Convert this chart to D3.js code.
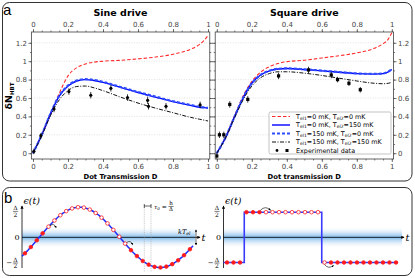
<!DOCTYPE html>
<html>
<head>
<meta charset="utf-8">
<script src="https://cdn.jsdelivr.net/npm/d3@7"></script>
<style>
body { margin: 0; background: #fff; }
svg { display: block; }
text { font-family: "DejaVu Sans", sans-serif; }
.serif { font-family: "DejaVu Serif", serif; }
</style>
</head>
<body>
<svg id="chart" width="415" height="278"></svg>
<script>
// ---- panel a data ----
let dGrid = [0, 0.05, 0.1, 0.15, 0.2, 0.25, 0.3, 0.35, 0.4, 0.5, 0.6, 0.7, 0.8, 0.9, 0.95, 0.98, 1];

let sine_T0_0     = [0, 0.2, 0.42, 0.65, 0.84, 0.93, 0.97, 0.99, 1.0, 1.01, 1.025, 1.045, 1.075, 1.13, 1.18, 1.23, 1.28];
let sine_T0_150   = [0, 0.2, 0.43, 0.62, 0.73, 0.785, 0.8, 0.79, 0.77, 0.715, 0.66, 0.61, 0.56, 0.52, 0.5, 0.495, 0.49];
let sine_T150_0   = [0, 0.2, 0.43, 0.625, 0.735, 0.79, 0.805, 0.795, 0.775, 0.72, 0.665, 0.615, 0.565, 0.525, 0.505, 0.497, 0.492];
let sine_T150_150 = [0, 0.19, 0.41, 0.58, 0.68, 0.725, 0.73, 0.71, 0.68, 0.61, 0.545, 0.49, 0.44, 0.39, 0.37, 0.358, 0.35];

let sq_T0_0     = [0, 0.17, 0.4, 0.62, 0.78, 0.88, 0.94, 0.975, 0.995, 1.01, 1.035, 1.06, 1.09, 1.14, 1.19, 1.24, 1.31];
let sq_T0_150   = [0, 0.17, 0.39, 0.6, 0.76, 0.85, 0.895, 0.915, 0.92, 0.91, 0.895, 0.88, 0.865, 0.86, 0.865, 0.885, 0.91];
let sq_T150_0   = [0, 0.17, 0.39, 0.6, 0.76, 0.85, 0.897, 0.917, 0.922, 0.912, 0.897, 0.882, 0.867, 0.862, 0.867, 0.887, 0.912];
let sq_T150_150 = [0, 0.165, 0.38, 0.58, 0.73, 0.82, 0.865, 0.885, 0.885, 0.87, 0.845, 0.815, 0.785, 0.76, 0.755, 0.76, 0.77];

let sineExpD   = [0.005, 0.045, 0.12, 0.205, 0.33, 0.445, 0.54, 0.655, 0.66, 0.76, 0.955];
let sineExpN   = [0.02, 0.19, 0.48, 0.67, 0.63, 0.705, 0.605, 0.575, 0.51, 0.51, 0.525];
let sineExpErr = [0.03, 0.03, 0.035, 0.035, 0.035, 0.035, 0.035, 0.04, 0.035, 0.035, 0.035];

let sqExpD   = [0, 0.015, 0.04, 0.074, 0.177, 0.353, 0.524, 0.654, 0.69, 0.755, 0.82];
let sqExpN   = [-0.03, 0.2, 0.2, 0.53, 0.585, 0.84, 0.905, 0.85, 0.8, 0.76, 0.69];
let sqExpErr = [0.03, 0.035, 0.035, 0.035, 0.035, 0.035, 0.035, 0.035, 0.03, 0.03, 0.03];

let xTicks = [0, 0.2, 0.4, 0.6, 0.8, 1];
let xMinor = d3.range(0, 1.001, 0.05);
let yTicks = [0, 0.2, 0.4, 0.6, 0.8, 1, 1.2];
let yMinor = d3.range(0, 1.25, 0.1);

let legendLabels = [
    ["0", "0"], ["0", "150"], ["150", "0"], ["150", "150"]
];

// ---- panel b data ----
let sineAmp = 1.2, sinePeriod = 0.9415, sinePhase = 0.101;   // in units of the panel width
let sineDotState = "FFFFOOOOOOOOOOOOOOFFFFFFFFFFF";
let squareEdges = [0, 0.119, 0.563, 1];
let squareLevels = [-1, 1, -1];
let squareDotState = "FFFFFFOOOOOOOOOOFFFFFFFFFFF";

const svg = d3.select('#chart');
const fmt = d3.format('~g');

// defs
let defs = svg.append('defs');
defs.append('marker').attr('id', 'arr')
    .attr('viewBox', '0 0 6 6').attr('refX', 5).attr('refY', 3)
    .attr('markerWidth', 4).attr('markerHeight', 4).attr('orient', 'auto-start-reverse')
    .append('path').attr('d', 'M0,0 L6,3 L0,6 z').attr('fill', '#000');
let grad = defs.append('linearGradient').attr('id', 'band')
    .attr('x1', 0).attr('x2', 0).attr('y1', 0).attr('y2', 1);
grad.append('stop').attr('offset', '0').attr('stop-color', '#ffffff').attr('stop-opacity', 0);
grad.append('stop').attr('offset', '0.5').attr('stop-color', '#7db8ea');
grad.append('stop').attr('offset', '1').attr('stop-color', '#ffffff').attr('stop-opacity', 0);

// panel boxes
svg.append('rect').attr('x', 2.5).attr('y', 2.5).attr('width', 409.5).attr('height', 178.5)
    .attr('rx', 7).attr('fill', 'none').attr('stroke', '#333');
svg.append('rect').attr('x', 2.5).attr('y', 187.5).attr('width', 409.5).attr('height', 88)
    .attr('rx', 7).attr('fill', 'none').attr('stroke', '#333');
svg.append('text').attr('x', 3).attr('y', 15).attr('font-size', 15)
    .style('font-family', '"Liberation Sans", Arial, sans-serif').text('a');
svg.append('text').attr('x', 4).attr('y', 203).attr('font-size', 15)
    .style('font-family', '"Liberation Sans", Arial, sans-serif').text('b');

const y = d3.scaleLinear([0, 1.2], [153.2, 42.8]);
const yTop = 32, yBot = 159;

let styles = [
    { color: '#ff2a2a', width: 1.1, dash: '3.5,2' },
    { color: '#0000ff', width: 1.4, dash: null },
    { color: '#2e4dff', width: 2.2, dash: '3,2' },
    { color: '#111111', width: 1, dash: '4,1.5,1,1.5' }
];

function styleAxis(g) {
    g.select('.domain').remove();
    g.selectAll('line').attr('stroke', '#444').attr('stroke-width', 0.7);
    g.selectAll('text').attr('font-size', 7).attr('fill', '#444')
        .style('font-family', '"DejaVu Sans", sans-serif');
}

function drawPlot(x, curves, expD, expN, expErr, square, title, xlabel, rightLabels) {
    let g = svg.append('g');
    let x0 = x(-0.009), x1 = x(1.01);

    g.selectAll('.grid').data(yTicks.slice(1)).join('line')
        .attr('x1', x0).attr('x2', x1)
        .attr('y1', d => y(d)).attr('y2', d => y(d))
        .attr('stroke', '#cfcfcf').attr('stroke-width', 0.6).attr('stroke-dasharray', '1,1.5');

    let line = d3.line()
        .x(d => x(d[0]))
        .y(d => y(d[1]))
        .curve(d3.curveMonotoneX);

    curves.forEach(function (c, i) {
        g.append('path')
            .attr('d', line(dGrid.map((d, k) => [d, c[k]])))
            .attr('fill', 'none')
            .attr('stroke', styles[i].color)
            .attr('stroke-width', styles[i].width)
            .attr('stroke-dasharray', styles[i].dash);
    });

    let pts = expD.map((d, i) => ({ d: d, n: expN[i], e: expErr[i] }));
    g.selectAll('.err').data(pts).join('line')
        .attr('x1', d => x(d.d)).attr('x2', d => x(d.d))
        .attr('y1', d => y(d.n - d.e)).attr('y2', d => y(d.n + d.e))
        .attr('stroke', '#000').attr('stroke-width', 0.8);
    if (square) {
        g.selectAll('.pt').data(pts).join('rect')
            .attr('x', d => x(d.d) - 1.6).attr('y', d => y(d.n) - 1.6)
            .attr('width', 3.2).attr('height', 3.2).attr('fill', '#000');
    } else {
        g.selectAll('.pt').data(pts).join('circle')
            .attr('cx', d => x(d.d)).attr('cy', d => y(d.n))
            .attr('r', 1.6).attr('fill', '#000');
    }

    g.append('rect').attr('x', x0).attr('y', yTop).attr('width', x1 - x0).attr('height', yBot - yTop)
        .attr('fill', 'none').attr('stroke', '#555').attr('stroke-width', 0.9);

    // axes
    [[d3.axisTop, yTop], [d3.axisBottom, yBot]].forEach(function (a) {
        g.append('g').attr('transform', `translate(0,${a[1]})`)
            .call(a[0](x).tickValues(xMinor).tickSize(1.5).tickFormat(''))
            .call(styleAxis);
        g.append('g').attr('transform', `translate(0,${a[1]})`)
            .call(a[0](x).tickValues(xTicks).tickSize(3).tickPadding(2).tickFormat(fmt))
            .call(styleAxis);
    });
    [[d3.axisLeft, x0, !rightLabels], [d3.axisRight, x1, rightLabels]].forEach(function (a) {
        g.append('g').attr('transform', `translate(${a[1]},0)`)
            .call(a[0](y).tickValues(yMinor).tickSize(1.5).tickFormat(''))
            .call(styleAxis);
        g.append('g').attr('transform', `translate(${a[1]},0)`)
            .call(a[0](y).tickValues(yTicks).tickSize(3).tickPadding(a[2] ? 1.5 : 0)
                .tickFormat(a[2] ? fmt : ''))
            .call(styleAxis);
    });

    let cx = (x(0) + x(1)) / 2;
    g.append('text').attr('x', cx).attr('y', 15.5).attr('text-anchor', 'middle')
        .attr('font-size', 9.5).attr('font-weight', 'bold').text(title);
    g.append('text').attr('x', cx).attr('y', 179).attr('text-anchor', 'middle')
        .attr('font-size', 6.8).attr('font-weight', 'bold').text(xlabel);
    return g;
}

const xL = d3.scaleLinear([0, 1], [33, 208]);
const xR = d3.scaleLinear([0, 1], [216.8, 391.8]);

drawPlot(xL, [sine_T0_0, sine_T0_150, sine_T150_0, sine_T150_150],
    sineExpD, sineExpN, sineExpErr, false, 'Sine drive', 'Dot Transmission D', false);
drawPlot(xR, [sq_T0_0, sq_T0_150, sq_T150_0, sq_T150_150],
    sqExpD, sqExpN, sqExpErr, true, 'Square drive', 'Dot transmission D', true);

// y label
let yl = svg.append('text').attr('transform', 'translate(12,96) rotate(-90)')
    .attr('text-anchor', 'middle').attr('font-weight', 'bold').attr('font-size', 9.5);
yl.append('tspan').text('\u03b4N');
yl.append('tspan').attr('font-size', 5.5).attr('dy', 1.5).text('HBT');

// legend
let lg = svg.append('g').attr('transform', 'translate(269,112)');
lg.append('rect').attr('width', 122).attr('height', 42).attr('rx', 1.5)
    .attr('fill', '#fff').attr('stroke', '#aaa').attr('stroke-width', 0.7);
let rows = [...legendLabels, null];
rows.forEach(function (r, i) {
    let yy = 4.5 + i * 8.5;
    if (r) {
        lg.append('line').attr('x1', 3).attr('x2', 21).attr('y1', yy).attr('y2', yy)
            .attr('stroke', styles[i].color).attr('stroke-width', styles[i].width)
            .attr('stroke-dasharray', styles[i].dash);
        let t = lg.append('text').attr('x', 27).attr('y', yy + 2.2).attr('font-size', 6.4);
        t.append('tspan').text('T');
        t.append('tspan').attr('font-size', 4.5).attr('dy', 1.2).text('el1');
        t.append('tspan').attr('dy', -1.2).text('=' + r[0] + ' mK, T');
        t.append('tspan').attr('font-size', 4.5).attr('dy', 1.2).text('el2');
        t.append('tspan').attr('dy', -1.2).text('=' + r[1] + ' mK');
    } else {
        lg.append('circle').attr('cx', 8).attr('cy', yy).attr('r', 1.4);
        lg.append('rect').attr('x', 16.5).attr('y', yy - 1.5).attr('width', 3).attr('height', 3);
        lg.append('text').attr('x', 27).attr('y', yy + 2.2).attr('font-size', 6.4).text('Experimental data');
    }
});

// ---- panel b ----
const yE = d3.scaleLinear([-1, 1], [262.5, 212.2]);
const tS = d3.scaleLinear([0, 1], [22, 193]);
const tQ = d3.scaleLinear([0, 1], [223.5, 398]);

function sineEps(t) { return sineAmp * Math.sin(2 * Math.PI * (t - sinePhase) / sinePeriod); }
function squareEps(t) {
    let i = d3.bisectRight(squareEdges, t) - 1;
    return squareLevels[Math.max(0, Math.min(i, squareLevels.length - 1))];
}

function fracLabel(g, cx, cy, num, den, neg, size) {
    g.append('text').attr('class', 'serif').attr('x', cx).attr('y', cy - 1.2)
        .attr('text-anchor', 'middle').attr('font-size', size).text(num);
    g.append('line').attr('x1', cx - 2.6).attr('x2', cx + 2.6).attr('y1', cy).attr('y2', cy)
        .attr('stroke', '#000').attr('stroke-width', 0.5);
    g.append('text').attr('class', 'serif').attr('x', cx).attr('y', cy + size * 0.85)
        .attr('text-anchor', 'middle').attr('font-size', size).text(den);
    if (neg) {
        g.append('text').attr('class', 'serif').attr('x', cx - 3.5).attr('y', cy + 2)
            .attr('text-anchor', 'end').attr('font-size', size + 1).text('\u2212');
    }
}

function drawDrive(t, tEnd, bandEnd, axisEnd) {
    let g = svg.append('g');
    let ax = t(0);
    g.append('rect').attr('x', ax).attr('y', yE(0) - 11).attr('width', bandEnd - ax).attr('height', 22)
        .attr('fill', 'url(#band)');
    g.append('line').attr('x1', ax).attr('x2', axisEnd).attr('y1', yE(0)).attr('y2', yE(0))
        .attr('stroke', '#000').attr('stroke-width', 0.8).attr('marker-end', 'url(#arr)');
    g.append('line').attr('x1', ax).attr('x2', ax).attr('y1', 268).attr('y2', 206)
        .attr('stroke', '#000').attr('stroke-width', 0.8).attr('marker-end', 'url(#arr)');
    g.append('text').attr('class', 'serif').attr('x', axisEnd + 1.5).attr('y', yE(0) + 3.5)
        .attr('font-size', 10).attr('font-style', 'italic').text('t');
    g.append('text').attr('class', 'serif').attr('x', ax + 1.5).attr('y', 203.5)
        .attr('font-size', 9.5).attr('font-style', 'italic').text('\u03f5(t)');
    fracLabel(g, ax - 6.5, yE(1) - 0.8, '\u0394', '2', false, 6);
    g.append('text').attr('class', 'serif').attr('x', ax - 2.5).attr('y', yE(0) + 3)
        .attr('text-anchor', 'end').attr('font-size', 8).text('0');
    fracLabel(g, ax - 6.5, yE(-1) + 0.5, '\u0394', '2', true, 6);
    return g;
}

// sine drive
let gs = drawDrive(tS, 1, 195, 200);
let sineLine = d3.line().x(d => tS(d)).y(d => yE(sineEps(d))).curve(d3.curveBasis);
gs.append('path').attr('d', sineLine(d3.range(0, 1.0001, 0.005)))
    .attr('fill', 'none').attr('stroke', '#1f2fff').attr('stroke-width', 1.5);
let sineDots = sineDotState.split('').map((s, i) => ({ t: 0.0175 + i * 0.9645 / (sineDotState.length - 1), s: s }));
gs.selectAll('.dot').data(sineDots).join('circle')
    .attr('cx', d => tS(d.t)).attr('cy', d => yE(sineEps(d.t))).attr('r', 1.8)
    .attr('fill', d => d.s === 'F' ? '#ff1a1a' : '#fff')
    .attr('stroke', '#ff1a1a').attr('stroke-width', 0.8);
// emission arrows
[[sineDots[4].t, -1], [sineDots[17].t, -1]].forEach(function (a) {
    let px = tS(a[0]) + 1.5, py = yE(sineEps(a[0])) - 1;
    gs.append('path').attr('d', `M${px},${py} Q${px + 4},${py - 3} ${px + 6},${py + 2}`)
        .attr('fill', 'none').attr('stroke', '#000').attr('stroke-width', 0.6).attr('marker-end', 'url(#arr)');
});
// kT band arrow
gs.append('line').attr('x1', 196).attr('x2', 196).attr('y1', yE(0) - 7.5).attr('y2', yE(0) + 7.5)
    .attr('stroke', '#000').attr('stroke-width', 0.6)
    .attr('marker-start', 'url(#arr)').attr('marker-end', 'url(#arr)');
let kt = gs.append('text').attr('class', 'serif').attr('x', 178).attr('y', yE(0) - 3)
    .attr('font-size', 6.5).attr('font-style', 'italic');
kt.append('tspan').text('kT');
kt.append('tspan').attr('font-size', 4.5).attr('dy', 1).text('el');
// tau_0 marker
[144.3, 151].forEach(function (xx) {
    gs.append('line').attr('x1', xx).attr('x2', xx).attr('y1', 205).attr('y2', 272)
        .attr('stroke', '#aaa').attr('stroke-width', 0.6).attr('stroke-dasharray', '1,0.8');
});
gs.append('line').attr('x1', 144.3).attr('x2', 151).attr('y1', 206).attr('y2', 206)
    .attr('stroke', '#000').attr('stroke-width', 0.6);
[144.3, 151].forEach(function (xx) {
    gs.append('line').attr('x1', xx).attr('x2', xx).attr('y1', 204).attr('y2', 208)
        .attr('stroke', '#000').attr('stroke-width', 0.6);
});
let tau = gs.append('text').attr('class', 'serif').attr('x', 154).attr('y', 208.5)
    .attr('font-size', 6).attr('font-style', 'italic');
tau.append('tspan').text('\u03c4');
tau.append('tspan').attr('font-size', 4).attr('dy', 1).text('0');
tau.append('tspan').attr('dy', -1).attr('font-style', 'normal').text(' =');
fracLabel(gs, 171, 206.5, 'h', '\u0394', false, 5.5);

// square drive
let gq = drawDrive(tQ, 1, 402, 404);
let sqPts = [];
squareLevels.forEach(function (lv, i) {
    sqPts.push([squareEdges[i], lv]);
    sqPts.push([squareEdges[i + 1], lv]);
});
gq.append('path').attr('d', d3.line().x(d => tQ(d[0])).y(d => yE(d[1]))(sqPts))
    .attr('fill', 'none').attr('stroke', '#3a3aff').attr('stroke-width', 1.6);
let sqDots = squareDotState.split('').map((s, i) => ({ t: 0.02 + i * 0.03725, s: s }));
gq.selectAll('.dot').data(sqDots).join('circle')
    .attr('cx', d => tQ(d.t)).attr('cy', d => yE(squareEps(d.t))).attr('r', 1.8)
    .attr('fill', d => d.s === 'F' ? '#ff1a1a' : '#fff')
    .attr('stroke', '#ff1a1a').attr('stroke-width', 0.8);
{
    let a = tQ(sqDots[5].t), b = yE(1);
    gq.append('path').attr('d', `M${a + 1},${b - 2} Q${a + 6},${b - 7} ${a + 11},${b - 2}`)
        .attr('fill', 'none').attr('stroke', '#000').attr('stroke-width', 0.6).attr('marker-end', 'url(#arr)');
    let c = tQ(sqDots[15].t), e = yE(-1);
    gq.append('path').attr('d', `M${c},${e + 2} Q${c + 4},${e + 7} ${c + 9},${e + 3}`)
        .attr('fill', 'none').attr('stroke', '#000').attr('stroke-width', 0.6).attr('marker-end', 'url(#arr)');
}
</script>
</body>
</html>
